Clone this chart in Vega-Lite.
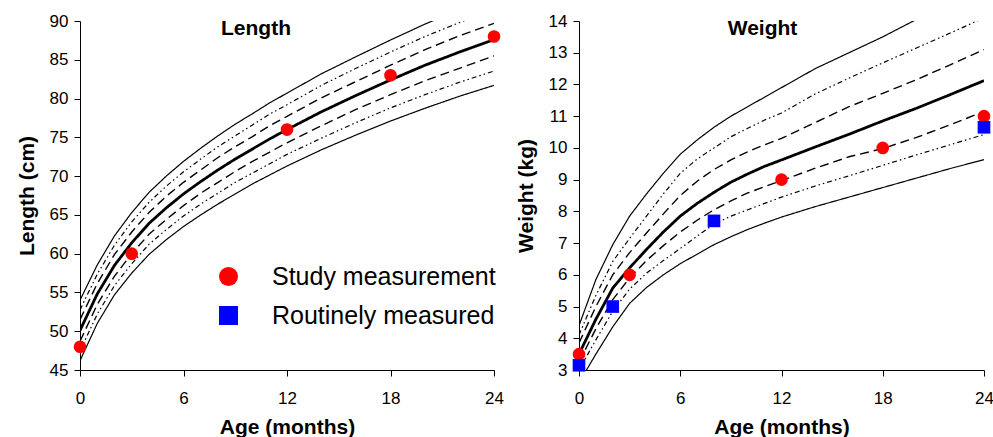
{
  "$schema": "https://vega.github.io/schema/vega-lite/v6.json",
  "background": "white",
  "padding": {"left": 16, "top": 12, "right": 0, "bottom": 0},
  "autosize": {"type": "pad"},
  "spacing": 11,
  "config": {
    "font": "Liberation Sans",
    "view": {"stroke": null},
    "axis": {
      "labelFont": "Liberation Sans", "labelFontSize": 17, "labelColor": "#000", "labelOverlap": false, "labelFlush": false,
      "titleFont": "Liberation Sans", "titleFontSize": 21, "titleFontWeight": "bold", "titleColor": "#000",
      "domainColor": "#000", "tickColor": "#000", "tickSize": 6, "grid": false
    },
    "axisX": {"labelPadding": 14, "titlePadding": 10},
    "axisY": {"labelPadding": 6, "titlePadding": 12},
    "legend": {
      "labelFont": "Liberation Sans", "labelFontSize": 25, "labelColor": "#000", "labelLimit": 400,
      "symbolSize": 360, "symbolStrokeWidth": 0, "labelOffset": 31, "rowPadding": 13
    },
    "title": {"font": "Liberation Sans", "fontSize": 21, "fontWeight": "bold", "color": "#000"}
  },
  "datasets": {
    "len": [
      {"m":0,"p":"P3","v":46.2},{"m":0,"p":"P10","v":47.45},{"m":0,"p":"P25","v":48.7},{"m":0,"p":"P50","v":50.1},{"m":0,"p":"P75","v":51.5},{"m":0,"p":"P90","v":52.75},{"m":0,"p":"P97","v":54.0},
      {"m":1,"p":"P3","v":51.0},{"m":1,"p":"P10","v":52.2},{"m":1,"p":"P25","v":53.45},{"m":1,"p":"P50","v":54.8},{"m":1,"p":"P75","v":56.15},{"m":1,"p":"P90","v":57.35},{"m":1,"p":"P97","v":58.55},
      {"m":2,"p":"P3","v":54.7},{"m":2,"p":"P10","v":55.9},{"m":2,"p":"P25","v":57.1},{"m":2,"p":"P50","v":58.5},{"m":2,"p":"P75","v":59.9},{"m":2,"p":"P90","v":61.1},{"m":2,"p":"P97","v":62.3},
      {"m":3,"p":"P3","v":57.5},{"m":3,"p":"P10","v":58.7},{"m":3,"p":"P25","v":60.0},{"m":3,"p":"P50","v":61.4},{"m":3,"p":"P75","v":62.8},{"m":3,"p":"P90","v":64.1},{"m":3,"p":"P97","v":65.3},
      {"m":4,"p":"P3","v":59.9},{"m":4,"p":"P10","v":61.2},{"m":4,"p":"P25","v":62.5},{"m":4,"p":"P50","v":63.9},{"m":4,"p":"P75","v":65.3},{"m":4,"p":"P90","v":66.6},{"m":4,"p":"P97","v":67.9},
      {"m":5,"p":"P3","v":61.8},{"m":5,"p":"P10","v":63.1},{"m":5,"p":"P25","v":64.4},{"m":5,"p":"P50","v":65.9},{"m":5,"p":"P75","v":67.4},{"m":5,"p":"P90","v":68.7},{"m":5,"p":"P97","v":70.0},
      {"m":6,"p":"P3","v":63.5},{"m":6,"p":"P10","v":64.85},{"m":6,"p":"P25","v":66.2},{"m":6,"p":"P50","v":67.7},{"m":6,"p":"P75","v":69.2},{"m":6,"p":"P90","v":70.55},{"m":6,"p":"P97","v":71.9},
      {"m":7,"p":"P3","v":65.0},{"m":7,"p":"P10","v":66.4},{"m":7,"p":"P25","v":67.8},{"m":7,"p":"P50","v":69.3},{"m":7,"p":"P75","v":70.8},{"m":7,"p":"P90","v":72.2},{"m":7,"p":"P97","v":73.6},
      {"m":8,"p":"P3","v":66.4},{"m":8,"p":"P10","v":67.8},{"m":8,"p":"P25","v":69.2},{"m":8,"p":"P50","v":70.8},{"m":8,"p":"P75","v":72.4},{"m":8,"p":"P90","v":73.8},{"m":8,"p":"P97","v":75.2},
      {"m":9,"p":"P3","v":67.7},{"m":9,"p":"P10","v":69.2},{"m":9,"p":"P25","v":70.6},{"m":9,"p":"P50","v":72.2},{"m":9,"p":"P75","v":73.8},{"m":9,"p":"P90","v":75.2},{"m":9,"p":"P97","v":76.7},
      {"m":10,"p":"P3","v":69.0},{"m":10,"p":"P10","v":70.4},{"m":10,"p":"P25","v":71.9},{"m":10,"p":"P50","v":73.5},{"m":10,"p":"P75","v":75.1},{"m":10,"p":"P90","v":76.6},{"m":10,"p":"P97","v":78.05},
      {"m":11,"p":"P3","v":70.15},{"m":11,"p":"P10","v":71.6},{"m":11,"p":"P25","v":73.1},{"m":11,"p":"P50","v":74.8},{"m":11,"p":"P75","v":76.5},{"m":11,"p":"P90","v":78.0},{"m":11,"p":"P97","v":79.45},
      {"m":12,"p":"P3","v":71.3},{"m":12,"p":"P10","v":72.8},{"m":12,"p":"P25","v":74.3},{"m":12,"p":"P50","v":76.0},{"m":12,"p":"P75","v":77.7},{"m":12,"p":"P90","v":79.2},{"m":12,"p":"P97","v":80.7},
      {"m":14,"p":"P3","v":73.4},{"m":14,"p":"P10","v":74.9},{"m":14,"p":"P25","v":76.5},{"m":14,"p":"P50","v":78.3},{"m":14,"p":"P75","v":80.1},{"m":14,"p":"P90","v":81.7},{"m":14,"p":"P97","v":83.2},
      {"m":16,"p":"P3","v":75.3},{"m":16,"p":"P10","v":76.9},{"m":16,"p":"P25","v":78.6},{"m":16,"p":"P50","v":80.4},{"m":16,"p":"P75","v":82.2},{"m":16,"p":"P90","v":83.9},{"m":16,"p":"P97","v":85.4},
      {"m":18,"p":"P3","v":77.1},{"m":18,"p":"P10","v":78.8},{"m":18,"p":"P25","v":80.5},{"m":18,"p":"P50","v":82.4},{"m":18,"p":"P75","v":84.3},{"m":18,"p":"P90","v":86.0},{"m":18,"p":"P97","v":87.55},
      {"m":20,"p":"P3","v":78.75},{"m":20,"p":"P10","v":80.5},{"m":20,"p":"P25","v":82.3},{"m":20,"p":"P50","v":84.3},{"m":20,"p":"P75","v":86.3},{"m":20,"p":"P90","v":88.0},{"m":20,"p":"P97","v":89.6},
      {"m":22,"p":"P3","v":80.3},{"m":22,"p":"P10","v":82.1},{"m":22,"p":"P25","v":83.9},{"m":22,"p":"P50","v":86.0},{"m":22,"p":"P75","v":88.1},{"m":22,"p":"P90","v":89.8},{"m":22,"p":"P97","v":91.5},
      {"m":24,"p":"P3","v":81.7},{"m":24,"p":"P10","v":83.55},{"m":24,"p":"P25","v":85.5},{"m":24,"p":"P50","v":87.6},{"m":24,"p":"P75","v":89.7},{"m":24,"p":"P90","v":91.6},{"m":24,"p":"P97","v":93.5}
    ],
    "wt": [
      {"m":0,"p":"P3","v":2.6},{"m":0,"p":"P10","v":3.0},{"m":0,"p":"P25","v":3.25},{"m":0,"p":"P50","v":3.5},{"m":0,"p":"P75","v":3.85},{"m":0,"p":"P90","v":4.1},{"m":0,"p":"P97","v":4.4},
      {"m":1,"p":"P3","v":3.5},{"m":1,"p":"P10","v":3.95},{"m":1,"p":"P25","v":4.3},{"m":1,"p":"P50","v":4.6},{"m":1,"p":"P75","v":5.0},{"m":1,"p":"P90","v":5.35},{"m":1,"p":"P97","v":5.85},
      {"m":2,"p":"P3","v":4.36},{"m":2,"p":"P10","v":4.85},{"m":2,"p":"P25","v":5.22},{"m":2,"p":"P50","v":5.58},{"m":2,"p":"P75","v":6.0},{"m":2,"p":"P90","v":6.42},{"m":2,"p":"P97","v":6.95},
      {"m":3,"p":"P3","v":5.1},{"m":3,"p":"P10","v":5.55},{"m":3,"p":"P25","v":5.9},{"m":3,"p":"P50","v":6.22},{"m":3,"p":"P75","v":6.7},{"m":3,"p":"P90","v":7.15},{"m":3,"p":"P97","v":7.85},
      {"m":4,"p":"P3","v":5.6},{"m":4,"p":"P10","v":6.05},{"m":4,"p":"P25","v":6.45},{"m":4,"p":"P50","v":6.8},{"m":4,"p":"P75","v":7.32},{"m":4,"p":"P90","v":7.85},{"m":4,"p":"P97","v":8.55},
      {"m":5,"p":"P3","v":6.0},{"m":5,"p":"P10","v":6.45},{"m":5,"p":"P25","v":6.92},{"m":5,"p":"P50","v":7.35},{"m":5,"p":"P75","v":7.92},{"m":5,"p":"P90","v":8.55},{"m":5,"p":"P97","v":9.2},
      {"m":6,"p":"P3","v":6.35},{"m":6,"p":"P10","v":6.83},{"m":6,"p":"P25","v":7.35},{"m":6,"p":"P50","v":7.85},{"m":6,"p":"P75","v":8.5},{"m":6,"p":"P90","v":9.2},{"m":6,"p":"P97","v":9.8},
      {"m":7,"p":"P3","v":6.65},{"m":7,"p":"P10","v":7.22},{"m":7,"p":"P25","v":7.72},{"m":7,"p":"P50","v":8.25},{"m":7,"p":"P75","v":8.95},{"m":7,"p":"P90","v":9.65},{"m":7,"p":"P97","v":10.25},
      {"m":8,"p":"P3","v":6.95},{"m":8,"p":"P10","v":7.6},{"m":8,"p":"P25","v":8.05},{"m":8,"p":"P50","v":8.6},{"m":8,"p":"P75","v":9.32},{"m":8,"p":"P90","v":10.0},{"m":8,"p":"P97","v":10.65},
      {"m":9,"p":"P3","v":7.2},{"m":9,"p":"P10","v":7.85},{"m":9,"p":"P25","v":8.33},{"m":9,"p":"P50","v":8.92},{"m":9,"p":"P75","v":9.62},{"m":9,"p":"P90","v":10.35},{"m":9,"p":"P97","v":11.0},
      {"m":10,"p":"P3","v":7.43},{"m":10,"p":"P10","v":8.05},{"m":10,"p":"P25","v":8.58},{"m":10,"p":"P50","v":9.18},{"m":10,"p":"P75","v":9.88},{"m":10,"p":"P90","v":10.62},{"m":10,"p":"P97","v":11.3},
      {"m":11,"p":"P3","v":7.63},{"m":11,"p":"P10","v":8.25},{"m":11,"p":"P25","v":8.78},{"m":11,"p":"P50","v":9.42},{"m":11,"p":"P75","v":10.1},{"m":11,"p":"P90","v":10.88},{"m":11,"p":"P97","v":11.6},
      {"m":12,"p":"P3","v":7.82},{"m":12,"p":"P10","v":8.45},{"m":12,"p":"P25","v":8.97},{"m":12,"p":"P50","v":9.62},{"m":12,"p":"P75","v":10.3},{"m":12,"p":"P90","v":11.1},{"m":12,"p":"P97","v":11.9},
      {"m":14,"p":"P3","v":8.15},{"m":14,"p":"P10","v":8.8},{"m":14,"p":"P25","v":9.36},{"m":14,"p":"P50","v":10.03},{"m":14,"p":"P75","v":10.8},{"m":14,"p":"P90","v":11.7},{"m":14,"p":"P97","v":12.5},
      {"m":16,"p":"P3","v":8.45},{"m":16,"p":"P10","v":9.12},{"m":16,"p":"P25","v":9.72},{"m":16,"p":"P50","v":10.43},{"m":16,"p":"P75","v":11.3},{"m":16,"p":"P90","v":12.2},{"m":16,"p":"P97","v":13.0},
      {"m":18,"p":"P3","v":8.75},{"m":18,"p":"P10","v":9.45},{"m":18,"p":"P25","v":9.98},{"m":18,"p":"P50","v":10.85},{"m":18,"p":"P75","v":11.72},{"m":18,"p":"P90","v":12.68},{"m":18,"p":"P97","v":13.5},
      {"m":20,"p":"P3","v":9.05},{"m":20,"p":"P10","v":9.78},{"m":20,"p":"P25","v":10.33},{"m":20,"p":"P50","v":11.25},{"m":20,"p":"P75","v":12.15},{"m":20,"p":"P90","v":13.15},{"m":20,"p":"P97","v":14.05},
      {"m":22,"p":"P3","v":9.35},{"m":22,"p":"P10","v":10.1},{"m":22,"p":"P25","v":10.73},{"m":22,"p":"P50","v":11.68},{"m":22,"p":"P75","v":12.62},{"m":22,"p":"P90","v":13.62},{"m":22,"p":"P97","v":14.65},
      {"m":24,"p":"P3","v":9.63},{"m":24,"p":"P10","v":10.42},{"m":24,"p":"P25","v":11.15},{"m":24,"p":"P50","v":12.12},{"m":24,"p":"P75","v":13.1},{"m":24,"p":"P90","v":14.1},{"m":24,"p":"P97","v":15.2}
    ],
    "lenpts": [
      {"m":0,"v":48,"k":"Study measurement"},
      {"m":3,"v":60,"k":"Study measurement"},
      {"m":12,"v":76,"k":"Study measurement"},
      {"m":18,"v":83,"k":"Study measurement"},
      {"m":24,"v":88,"k":"Study measurement"}
    ],
    "wtpts": [
      {"m":0,"v":3.5,"k":"Study measurement"},
      {"m":3,"v":6,"k":"Study measurement"},
      {"m":12,"v":9,"k":"Study measurement"},
      {"m":18,"v":10,"k":"Study measurement"},
      {"m":24,"v":11,"k":"Study measurement"},
      {"m":0,"v":3.15,"k":"Routinely measured"},
      {"m":2,"v":5,"k":"Routinely measured"},
      {"m":8,"v":7.7,"k":"Routinely measured"},
      {"m":24,"v":10.65,"k":"Routinely measured"}
    ]
  },
  "hconcat": [
    {
      "width": 414, "height": 349,
      "title": {"text": "Length", "offset": -27, "dx": -31},
      "encoding": {
        "x": {"field": "m", "type": "quantitative", "scale": {"domain": [0, 24], "nice": false}, "axis": {"values": [0, 6, 12, 18, 24], "title": "Age (months)", "labelOverlap": false, "labelFlush": false}},
        "y": {"field": "v", "type": "quantitative", "scale": {"domain": [45, 90], "nice": false, "zero": false}, "axis": {"values": [45, 50, 55, 60, 65, 70, 75, 80, 85, 90], "title": "Length (cm)", "labelOverlap": false, "labelFlush": false}}
      },
      "layer": [
        {
          "data": {"name": "len"},
          "mark": {"type": "line", "clip": true, "color": "#000"},
          "encoding": {
            "detail": {"field": "p"},
            "strokeDash": {"field": "p", "type": "nominal", "legend": null, "scale": {"domain": ["P3","P10","P25","P50","P75","P90","P97"], "range": [[1,0],[5,3,1.5,3,1.5,3],[9,5],[1,0],[9,5],[5,3,1.5,3,1.5,3],[1,0]]}},
            "strokeWidth": {"field": "p", "type": "nominal", "legend": null, "scale": {"type": "ordinal", "domain": ["P3","P10","P25","P50","P75","P90","P97"], "range": [1.2,1.2,1.4,2.8,1.4,1.2,1.2]}}
          }
        },
        {
          "data": {"name": "lenpts"},
          "mark": {"type": "point", "filled": true, "opacity": 1, "size": 160},
          "encoding": {
            "color": {"field": "k", "type": "nominal", "scale": {"domain": ["Study measurement", "Routinely measured"], "range": ["#ff0000", "#0000ff"]}, "legend": {"title": null, "orient": "none", "legendX": 136, "legendY": 243}},
            "shape": {"field": "k", "type": "nominal", "scale": {"domain": ["Study measurement", "Routinely measured"], "range": ["circle", "square"]}, "legend": {"title": null, "orient": "none", "legendX": 136, "legendY": 243}}
          }
        }
      ]
    },
    {
      "width": 405, "height": 349,
      "title": {"text": "Weight", "offset": -27, "dx": -19},
      "encoding": {
        "x": {"field": "m", "type": "quantitative", "scale": {"domain": [0, 24], "nice": false}, "axis": {"values": [0, 6, 12, 18, 24], "title": "Age (months)", "labelOverlap": false, "labelFlush": false}},
        "y": {"field": "v", "type": "quantitative", "scale": {"domain": [3, 14], "nice": false, "zero": false}, "axis": {"values": [3,4,5,6,7,8,9,10,11,12,13,14], "title": "Weight (kg)", "labelOverlap": false, "labelFlush": false}}
      },
      "layer": [
        {
          "data": {"name": "wt"},
          "mark": {"type": "line", "clip": true, "color": "#000"},
          "encoding": {
            "detail": {"field": "p"},
            "strokeDash": {"field": "p", "type": "nominal", "legend": null, "scale": {"domain": ["P3","P10","P25","P50","P75","P90","P97"], "range": [[1,0],[5,3,1.5,3,1.5,3],[9,5],[1,0],[9,5],[5,3,1.5,3,1.5,3],[1,0]]}},
            "strokeWidth": {"field": "p", "type": "nominal", "legend": null, "scale": {"type": "ordinal", "domain": ["P3","P10","P25","P50","P75","P90","P97"], "range": [1.2,1.2,1.4,2.8,1.4,1.2,1.2]}}
          }
        },
        {
          "data": {"name": "wtpts"},
          "mark": {"type": "point", "filled": true, "opacity": 1, "size": 160},
          "encoding": {
            "color": {"field": "k", "type": "nominal", "scale": {"domain": ["Study measurement", "Routinely measured"], "range": ["#ff0000", "#0000ff"]}},
            "shape": {"field": "k", "type": "nominal", "scale": {"domain": ["Study measurement", "Routinely measured"], "range": ["circle", "square"]}}
          }
        }
      ]
    }
  ]
}
